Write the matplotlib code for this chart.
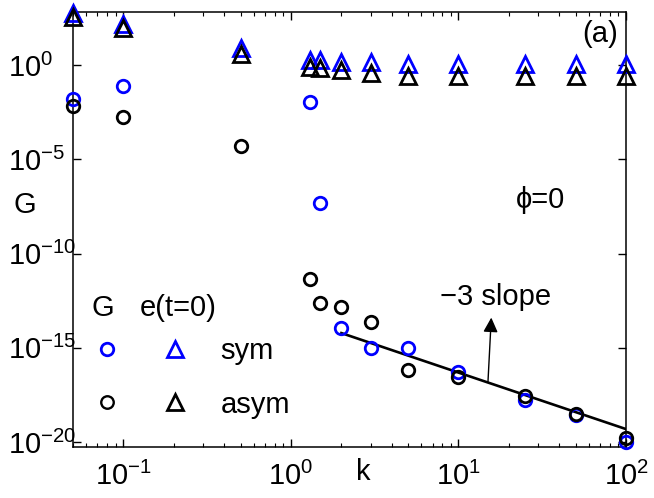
import matplotlib
matplotlib.use("Agg")
import matplotlib.pyplot as plt
import numpy as np
from matplotlib.lines import Line2D
from matplotlib.legend_handler import HandlerTuple
from matplotlib.ticker import NullLocator

plt.rcParams.update({
    "font.family": ["Liberation Sans", "DejaVu Sans"],
    "mathtext.fontset": "custom",
    "mathtext.rm": "Liberation Sans",
    "mathtext.it": "Liberation Sans:italic",
    "font.size": 21,
    "axes.linewidth": 1.1,
})

# data
k = [0.05, 0.1, 0.5, 1.3, 1.5, 2, 3, 5, 10, 25, 50, 100]
G_sym = [1.6e-2, 8.3e-2, np.nan, 1.1e-2, 5.0e-8, 1.1e-14, 1.0e-15, 1.0e-15,
         5.0e-17, 1.6e-18, 2.8e-19, 1.0e-20]
G_asym = [6.6e-3, 1.7e-3, 4.9e-5, 4.2e-12, 2.3e-13, 1.4e-13, 2.2e-14, 6.8e-17,
          2.9e-17, 2.6e-18, 3.2e-19, 1.6e-20]
e_sym = [600, 150, 8.3, 2.0, 2.0, 1.5, 1.4, 1.1, 1.2, 1.2, 1.2, 1.2]
e_asym = [370, 93, 3.9, 0.80, 0.70, 0.54, 0.39, 0.26, 0.28, 0.28, 0.28, 0.28]

# -3 slope reference line
slope_k = np.array([2.0, 100.0])
slope_coef = 4.8e-14

BLUE, BLACK = "#0000ff", "#000000"

fig = plt.figure(figsize=(6.54, 4.98), dpi=100)
ax = fig.add_axes([0.1116, 0.1024, 0.8456, 0.8726])

ms_c, ms_t, mew = 9, 11, 2.0
ax.plot(slope_k, slope_coef * slope_k ** -3.0, "-", color=BLACK, lw=1.9, zorder=2)
ax.plot(k, G_sym, "o", ls="none", ms=ms_c, mfc="none", mec=BLUE, mew=mew, clip_on=False, zorder=3)
ax.plot(k, G_asym, "o", ls="none", ms=ms_c, mfc="none", mec=BLACK, mew=mew, clip_on=False, zorder=3)
ax.plot(k, e_sym, "^", ls="none", ms=ms_t, mfc="none", mec=BLUE, mew=mew, clip_on=False, zorder=3)
ax.plot(k, e_asym, "^", ls="none", ms=ms_t, mfc="none", mec=BLACK, mew=mew, clip_on=False, zorder=3)

ax.set_xscale("log")
ax.set_yscale("log")
ax.set_xlim(0.05, 100)
ax.set_ylim(10 ** -20.27, 10 ** 2.8)
ax.set_yticks([1e-20, 1e-15, 1e-10, 1e-5, 1e0])
ax.yaxis.set_minor_locator(NullLocator())
ax.tick_params(which="both", direction="in", top=True, right=True)
ax.tick_params(which="major", length=6, width=1.0)
ax.tick_params(which="minor", length=3, width=0.8)
ax.tick_params(axis="y", pad=47)
ax.tick_params(axis="x", pad=11)
for t in ax.get_yticklabels():
    t.set_horizontalalignment("left")

# labels
ax.text(-0.087, 0.557, "G", transform=ax.transAxes, ha="center", va="center")
ax.text(0.524, -0.0575, "k", transform=ax.transAxes, ha="center", va="center")
ax.text(0.985, 0.95, "(a)", transform=ax.transAxes, ha="right", va="center")
ax.text(0.845, 0.568, "\u03d5=0", transform=ax.transAxes, ha="center", va="center")

# -3 slope annotation
ax.annotate("", xy=(15.7, 10 ** -13.4), xytext=(15.0, 10 ** -16.8),
            arrowprops=dict(arrowstyle="-|>", color=BLACK, lw=1.0,
                            mutation_scale=22, shrinkA=0, shrinkB=0))
ax.text(16.6, 10 ** -12.3, "\u22123 slope", ha="center", va="center")

# legend
ax.text(0.054, 0.32, "G", transform=ax.transAxes, ha="center", va="center")
ax.text(0.19, 0.32, "e(t=0)", transform=ax.transAxes, ha="center", va="center")
h_sym = (Line2D([], [], marker="o", ls="none", ms=9, mfc="none", mec=BLUE, mew=mew),
         Line2D([], [], marker="^", ls="none", ms=11, mfc="none", mec=BLUE, mew=mew))
h_asym = (Line2D([], [], marker="o", ls="none", ms=9, mfc="none", mec=BLACK, mew=1.7),
          Line2D([], [], marker="^", ls="none", ms=11, mfc="none", mec=BLACK, mew=mew))
ax.legend([h_sym, h_asym], ["sym", "asym"],
          handler_map={tuple: HandlerTuple(ndivide=None, pad=0)},
          loc="upper left", bbox_to_anchor=(0.0, 0.2535), borderaxespad=0,
          borderpad=0, frameon=False, handlelength=4.67, handletextpad=0.38,
          labelspacing=0.88, fontsize=21)

fig.savefig("out.png", dpi=100)
